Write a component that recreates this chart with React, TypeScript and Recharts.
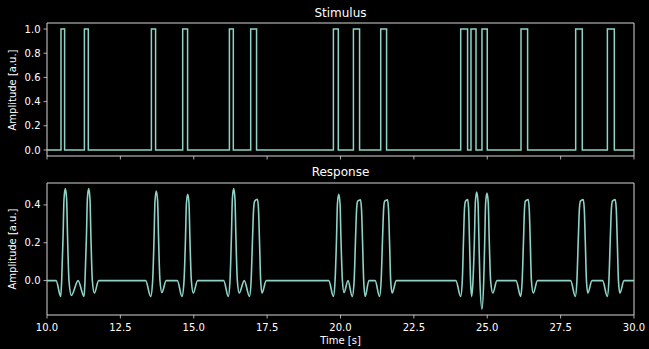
import { LineChart, Line, XAxis, YAxis, ReferenceArea } from 'recharts';

const timeTicks = [10, 12.5, 15, 17.5, 20, 22.5, 25, 27.5, 30];
const stimulusTicks = [0, 0.2, 0.4, 0.6, 0.8, 1.0];
const responseTicks = [0, 0.2, 0.4];

// pulse onsets / offsets of the stimulus train [s]
const pulseOn = [10.477, 11.274, 13.557, 14.623, 16.215, 16.94, 19.758, 20.44, 21.37, 24.095, 24.446, 24.82, 26.15, 28.013, 29.093];
const pulseOff = [10.6, 11.407, 13.7, 14.79, 16.348, 17.14, 19.925, 20.65, 21.57, 24.33, 24.617, 25.0, 26.375, 28.238, 29.329];

// filtered response, sampled at its turning points [t, amplitude]
const responseTrace: [number, number][] = [
  [10, 0], [10.31, 0],
  [10.467, -0.084], [10.5, 0], [10.549, 0.24], [10.579, 0.43], [10.624, 0.486], [10.669, 0.43], [10.699, 0.24], [10.749, 0],
  [10.83, -0.078], [11.06, 0],
  [11.261, -0.084], [11.295, 0], [11.345, 0.24], [11.375, 0.43], [11.42, 0.486], [11.465, 0.43], [11.495, 0.24], [11.545, 0],
  [11.615, -0.066], [11.76, 0],

  [13.36, 0],
  [13.533, -0.084], [13.6, 0], [13.649, 0.235], [13.679, 0.42], [13.724, 0.474], [13.769, 0.42], [13.799, 0.235], [13.849, 0],
  [13.915, -0.063], [14.06, 0], [14.44, 0],
  [14.6, -0.084], [14.669, 0], [14.719, 0.225], [14.749, 0.405], [14.794, 0.456], [14.839, 0.405], [14.869, 0.225], [14.919, 0],
  [14.985, -0.066], [15.13, 0],

  [16.02, 0],
  [16.177, -0.084], [16.235, 0], [16.285, 0.24], [16.315, 0.43], [16.36, 0.486], [16.405, 0.43], [16.435, 0.24], [16.485, 0],
  [16.55, -0.066], [16.72, 0],
  [16.9, -0.084], [16.955, 0], [17.0, 0.21], [17.04, 0.38], [17.075, 0.42], [17.17, 0.43], [17.205, 0.38], [17.24, 0.21], [17.28, 0],
  [17.325, -0.066], [17.47, 0],

  [19.6, 0],
  [19.758, -0.084], [19.815, 0], [19.865, 0.225], [19.895, 0.405], [19.94, 0.456], [19.985, 0.405], [20.015, 0.225], [20.065, 0],
  [20.12, -0.063], [20.256, 0],
  [20.4, -0.084], [20.465, 0], [20.51, 0.21], [20.55, 0.38], [20.585, 0.42], [20.68, 0.427], [20.715, 0.38], [20.75, 0.21], [20.79, 0],
  [20.84, -0.084], [20.97, 0], [21.18, 0],
  [21.33, -0.084], [21.385, 0], [21.43, 0.21], [21.47, 0.38], [21.505, 0.42], [21.6, 0.427], [21.635, 0.38], [21.67, 0.21], [21.71, 0],
  [21.76, -0.066], [21.9, 0],

  [23.93, 0],
  [24.095, -0.084], [24.15, 0], [24.19, 0.21], [24.225, 0.38], [24.26, 0.42], [24.335, 0.428], [24.365, 0.38], [24.395, 0.21], [24.43, 0],
  [24.47, -0.084], [24.515, 0], [24.565, 0.23], [24.595, 0.415], [24.64, 0.468], [24.685, 0.415], [24.715, 0.23], [24.75, 0],
  [24.82, -0.151], [24.88, 0], [24.917, 0.23], [24.945, 0.41], [24.99, 0.463], [25.035, 0.41], [25.065, 0.23], [25.115, 0],
  [25.19, -0.066], [25.33, 0],

  [25.98, 0],
  [26.14, -0.084], [26.19, 0], [26.235, 0.21], [26.27, 0.38], [26.3, 0.42], [26.395, 0.428], [26.43, 0.38], [26.465, 0.21], [26.505, 0],
  [26.57, -0.066], [26.71, 0],

  [27.84, 0],
  [28.0, -0.084], [28.055, 0], [28.1, 0.21], [28.14, 0.38], [28.175, 0.42], [28.27, 0.428], [28.305, 0.38], [28.34, 0.21], [28.38, 0],
  [28.425, -0.066], [28.57, 0],

  [28.93, 0],
  [29.09, -0.084], [29.145, 0], [29.19, 0.21], [29.23, 0.38], [29.265, 0.42], [29.36, 0.428], [29.395, 0.38], [29.43, 0.21], [29.47, 0],
  [29.52, -0.066], [29.66, 0], [30, 0],
];

const LINE = '#8dd3c7';
const EDGE = '#d6d6d6';
const FONT = '"DejaVu Sans", sans-serif';

const stimulusData = [{ t: 10, v: 0 }];
pulseOn.forEach((on, i) => {
  stimulusData.push({ t: on, v: 1 });
  stimulusData.push({ t: pulseOff[i], v: 0 });
});
stimulusData.push({ t: 30, v: 0 });

const responseData = responseTrace.map(([t, v]) => ({ t, v }));

const tickStyle = { fill: '#ffffff', fontSize: 10, fontFamily: FONT };

function Label({ x, y, text, size = 10, rotate = false }: { x: number; y: number; text: string; size?: number; rotate?: boolean }) {
  return (
    <div
      style={{
        position: 'absolute',
        left: x,
        top: y,
        transform: `translate(-50%, -50%)${rotate ? ' rotate(-90deg)' : ''}`,
        color: '#ffffff',
        fontFamily: FONT,
        fontSize: size,
        whiteSpace: 'nowrap',
        lineHeight: 1,
      }}
    >
      {text}
    </div>
  );
}

export default function App() {
  return (
    <div style={{ position: 'fixed', left: 0, top: 0, width: 649, height: 349, background: '#000', overflow: 'hidden' }}>
      <div style={{ position: 'absolute', left: 0, top: 0 }}>
        <LineChart width={649} height={170} data={stimulusData} margin={{ top: 23, right: 15, bottom: 0, left: 7 }}>
          <XAxis
            dataKey="t"
            type="number"
            domain={[10, 30]}
            ticks={timeTicks}
            allowDataOverflow
            height={14}
            axisLine={false}
            tickLine={{ stroke: EDGE, strokeWidth: 0.8 }}
            tickSize={3.5}
            tickFormatter={() => ''}
          />
          <YAxis
            type="number"
            domain={[-0.05, 1.05]}
            ticks={stimulusTicks}
            allowDataOverflow
            width={40}
            axisLine={false}
            tickLine={{ stroke: EDGE, strokeWidth: 0.8 }}
            tickSize={3.5}
            tickMargin={3}
            tick={tickStyle}
            tickFormatter={(v: number) => v.toFixed(1)}
          />
          <ReferenceArea x1={10} x2={30} y1={-0.05} y2={1.05} fill="none" stroke={EDGE} strokeWidth={1} ifOverflow="visible" />
          <Line type="stepAfter" dataKey="v" stroke={LINE} strokeWidth={1.5} dot={false} isAnimationActive={false} />
        </LineChart>
      </div>

      <div style={{ position: 'absolute', left: 0, top: 160 }}>
        <LineChart width={649} height={189} data={responseData} margin={{ top: 23, right: 15, bottom: 0, left: 7 }}>
          <XAxis
            dataKey="t"
            type="number"
            domain={[10, 30]}
            ticks={timeTicks}
            allowDataOverflow
            height={34}
            axisLine={false}
            tickLine={{ stroke: EDGE, strokeWidth: 0.8 }}
            tickSize={3.5}
            tickMargin={5}
            tick={tickStyle}
            tickFormatter={(v: number) => v.toFixed(1)}
          />
          <YAxis
            type="number"
            domain={[-0.182, 0.516]}
            ticks={responseTicks}
            allowDataOverflow
            width={40}
            axisLine={false}
            tickLine={{ stroke: EDGE, strokeWidth: 0.8 }}
            tickSize={3.5}
            tickMargin={3}
            tick={tickStyle}
            tickFormatter={(v: number) => v.toFixed(1)}
          />
          <ReferenceArea x1={10} x2={30} y1={-0.182} y2={0.516} fill="none" stroke={EDGE} strokeWidth={1} ifOverflow="visible" />
          <Line type="monotone" dataKey="v" stroke={LINE} strokeWidth={1.6} dot={false} isAnimationActive={false} />
        </LineChart>
      </div>

      <Label x={340.5} y={13} text="Stimulus" size={12} />
      <Label x={340.5} y={172} text="Response" size={12} />
      <Label x={340.5} y={341} text="Time [s]" />
      <Label x={12.5} y={90} text="Amplitude [a.u.]" rotate />
      <Label x={12.5} y={249} text="Amplitude [a.u.]" rotate />
    </div>
  );
}
